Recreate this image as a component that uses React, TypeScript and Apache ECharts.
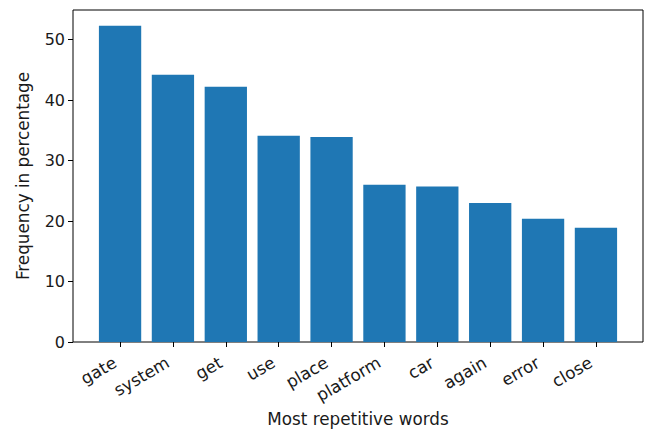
import React, { useEffect, useRef } from "react";
import * as echarts from "echarts";

const categories = ["gate", "system", "get", "use", "place", "platform", "car", "again", "error", "close"];
const values = [52.3, 44.2, 42.2, 34.1, 33.9, 26.0, 25.7, 23.0, 20.4, 18.9];
const yTicks = [0, 10, 20, 30, 40, 50];

const FONT = "DejaVu Sans";
const TXT = "#1a1a1a";
const FS = 16.8;

export default function App() {
  const ref = useRef<HTMLDivElement>(null);
  useEffect(() => {
    const chart = echarts.init(ref.current!, null, { renderer: "svg" });
    const yMax = 54.9;
    const unit = 570 / 10.78;
    const g1Left = 73 + 0.89 * unit - unit / 2;
    chart.setOption({
      animation: false,
      backgroundColor: "#ffffff",
      grid: [
        { left: 73, top: 10, width: 570, height: 332, show: true, borderColor: "#000", borderWidth: 1, backgroundColor: "transparent", containLabel: false, outerBoundsMode: "none" },
        { left: g1Left, top: 10, width: unit * 10, height: 332, containLabel: false, outerBoundsMode: "none" },
      ],
      xAxis: [
        { type: "value", gridIndex: 0, min: 0, max: 1, show: false },
        {
          type: "category",
          gridIndex: 1,
          data: categories,
          axisLine: { show: false },
          axisTick: { show: true, alignWithLabel: true, length: 5, inside: false, lineStyle: { color: "#000" } },
          axisLabel: { rotate: 30, color: TXT, fontFamily: FONT, fontSize: FS, margin: 16, padding: [0, 6, 0, 0] },
          name: "Most repetitive words",
          nameLocation: "middle",
          nameGap: 67,
          nameTextStyle: { color: TXT, fontFamily: FONT, fontSize: FS },
        },
      ],
      yAxis: [
        {
          type: "value",
          gridIndex: 0,
          min: 0,
          max: yMax,
          axisLine: { show: false },
          splitLine: { show: false },
          axisTick: { show: true, length: 5, lineStyle: { color: "#000" }, customValues: yTicks },
          axisLabel: { color: TXT, fontFamily: FONT, fontSize: 16, margin: 8, customValues: yTicks },
          name: "Frequency in percentage",
          nameLocation: "middle",
          nameGap: 42,
          nameTextStyle: { color: TXT, fontFamily: FONT, fontSize: FS },
        },
        { type: "value", gridIndex: 1, min: 0, max: yMax, show: false },
      ],
      series: [
        {
          type: "bar",
          xAxisIndex: 1,
          yAxisIndex: 1,
          data: values,
          barCategoryGap: "20%",
          itemStyle: { color: "#1f77b4" },
        },
      ],
    });
    return () => chart.dispose();
  }, []);
  return <div ref={ref} style={{ position: "fixed", left: 0, top: 0, width: 647, height: 430 }} />;
}
